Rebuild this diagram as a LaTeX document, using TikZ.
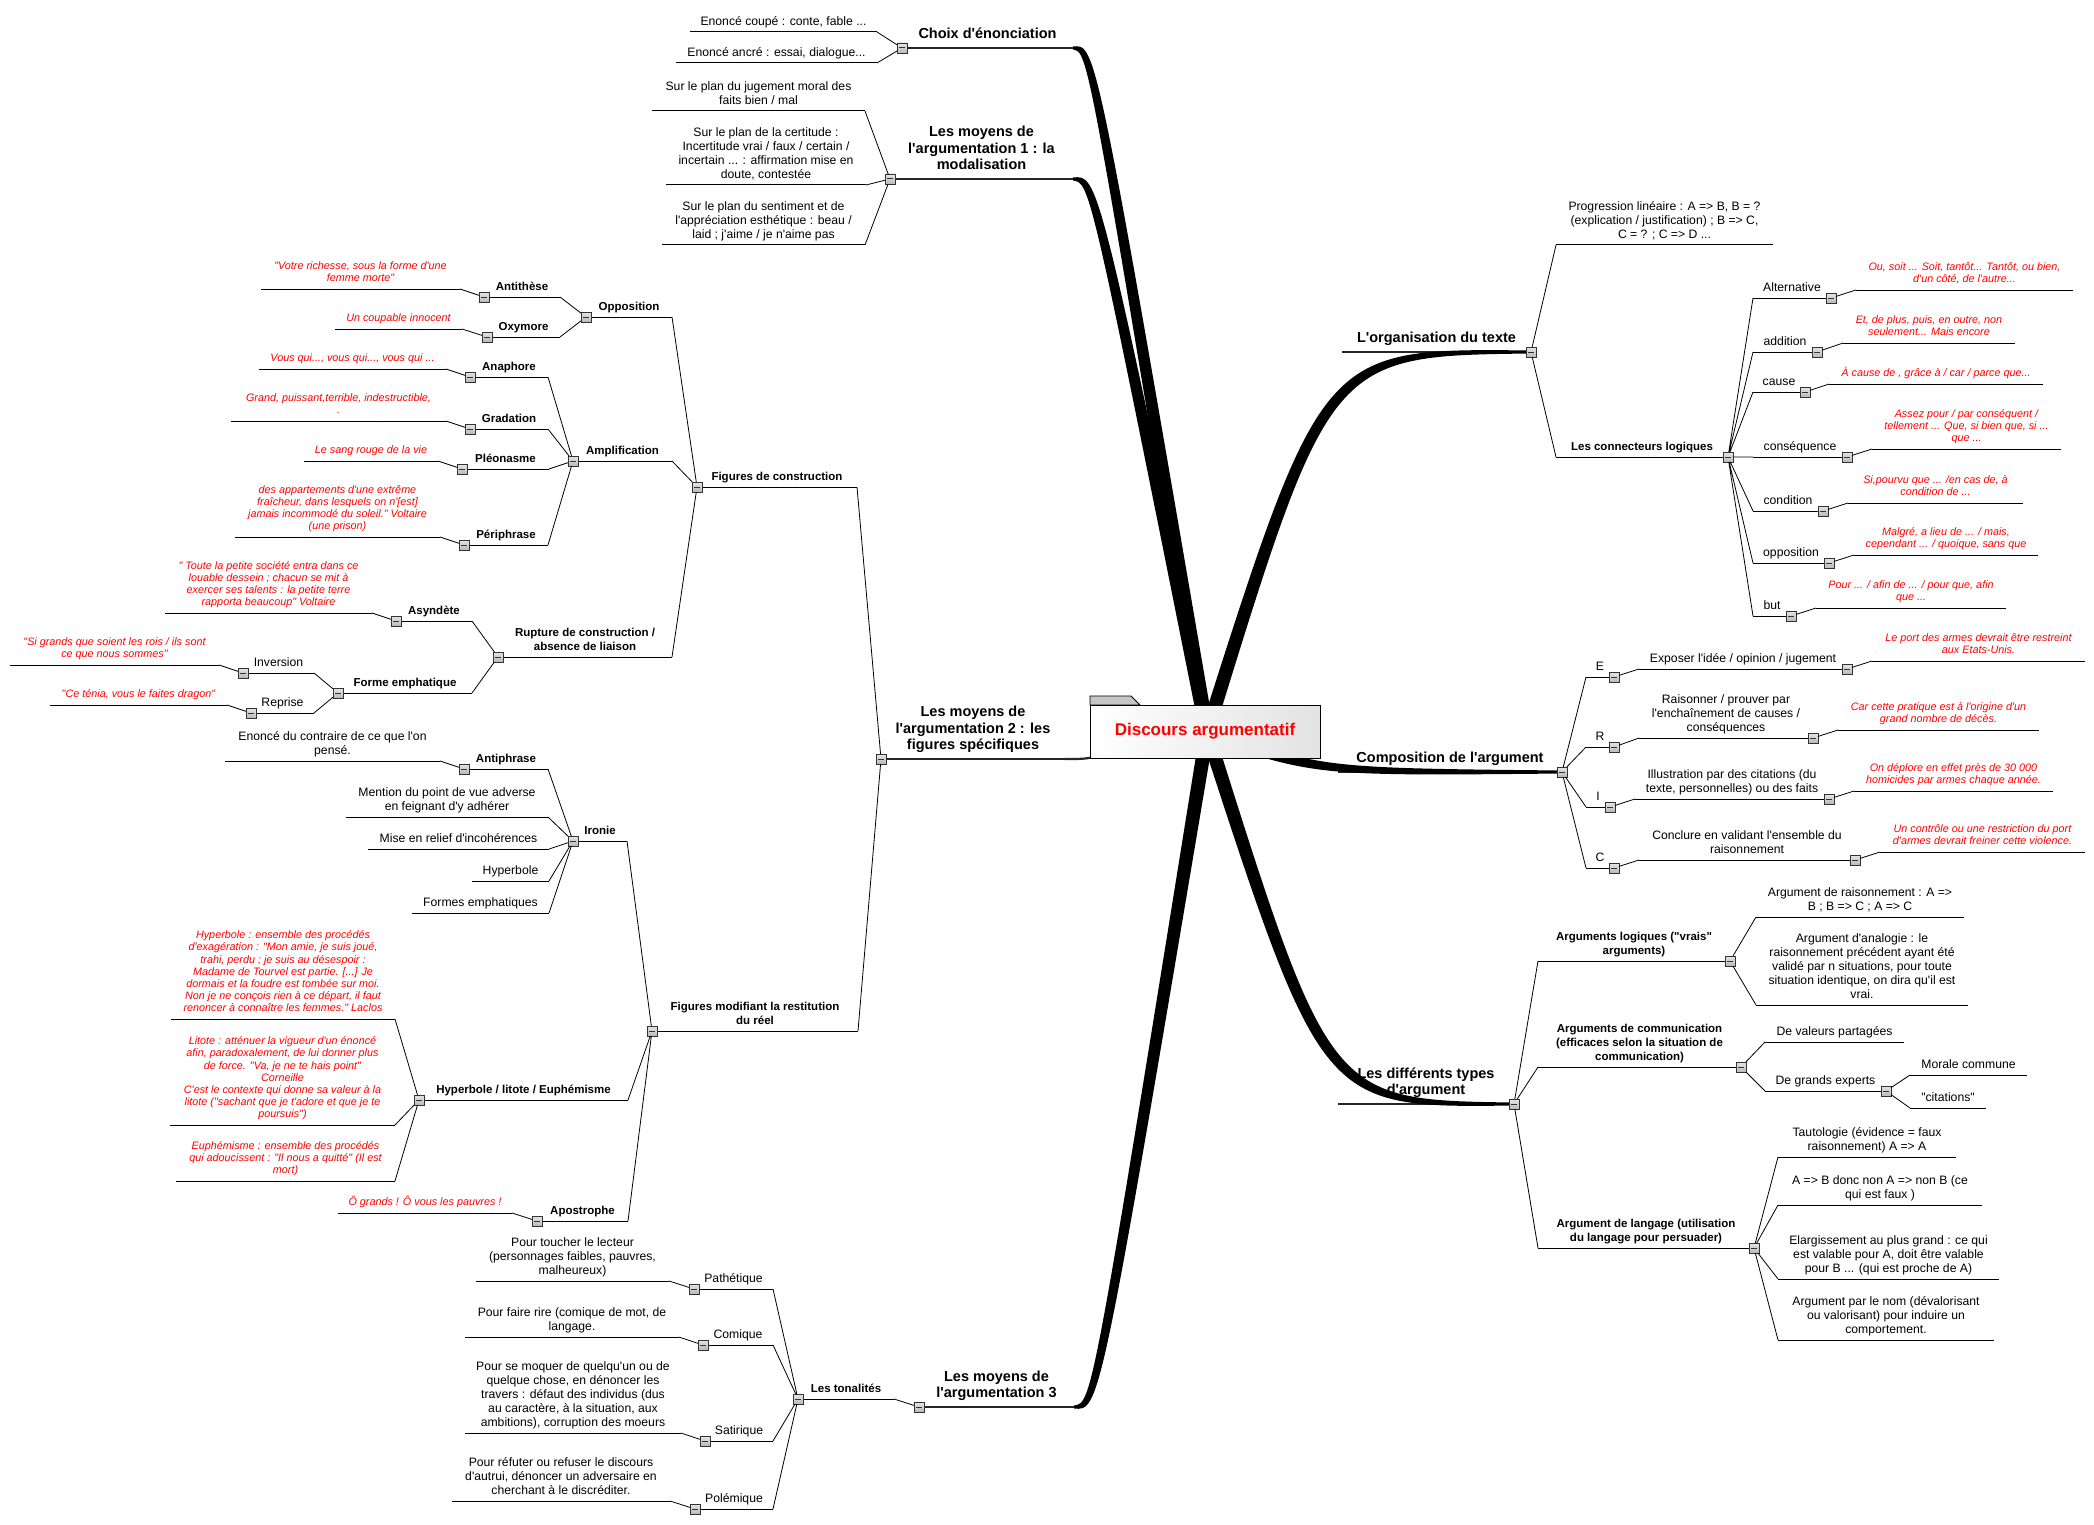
\documentclass[tikz,border=0pt]{standalone}
\usepackage{fontspec}
\setmainfont{Liberation Sans}[Ligatures=TeXOff]
\usetikzlibrary{calc}

\tikzset{
  txt/.style={font=\fontsize{12.2}{14}\selectfont, align=center, inner sep=0pt, text depth=0pt},
  sub/.style={txt, font=\bfseries\fontsize{11.5}{14}\selectfont},
  main/.style={txt, font=\bfseries\fontsize{14.5}{16.5}\selectfont, yshift=3pt},
  ex/.style={txt, font=\itshape\fontsize{10.8}{12.2}\selectfont, text=red, yshift=1pt},
  txt line/.style={line width=1pt},
  sub line/.style={line width=1pt},
  ex line/.style={line width=1pt},
  main line/.style={line width=2.2pt, black!85},
  link/.style={line width=.8pt},
  tog/.style={draw=gray!40!black, top color=gray!20, bottom color=gray!55, line width=.6pt,
    minimum size=10pt, inner sep=0pt, outer sep=0pt,
    path picture={\draw[line width=1pt, black!80]
      ([xshift=2.2pt]path picture bounding box.west) -- ([xshift=-2.2pt]path picture bounding box.east);}},
}

% a topic: text above its underline
\newcommand{\topic}[6]{%
  \coordinate (#1-l) at (#3,#5);
  \coordinate (#1-r) at (#4,#5);
  \draw[#2 line] (#1-l) -- (#1-r);
  \node[#2, anchor=south] (#1) at ($(#1-l)!.5!(#1-r)+(0,-6)$) {#6};
}
% the small collapse box
\newcommand{\tog}[2]{\node[tog] (#1-b) at (#2) {};}
% thick tapered branch from the centre
\newcommand{\branch}[4]{%
  \fill ($(ctr)+(#3)$) .. controls ($(#2)+(#4)$) .. ($(#1)+(0,-1.5)$)
    -- ($(#1)+(0,1.5)$) .. controls ($(#2)-(#4)$) .. ($(ctr)-(#3)$) -- cycle;
}

\begin{document}
\begin{tikzpicture}[x=1pt, y=-1pt]
\useasboundingbox (0,0) rectangle (2094,1525);
\coordinate (ctr) at (1207,732);

% Main topics on the left
\topic{choix}{main}{902}{1073}{48}{Choix d'énonciation}
\topic{modal}{main}{890}{1073}{179}{Les moyens de\\l'argumentation 1 : la\\modalisation}
\topic{moy2}{main}{881}{1065}{759}{Les moyens de\\l'argumentation 2 : les\\figures spécifiques}
\topic{moy3}{main}{919}{1074}{1407}{Les moyens de\\l'argumentation 3}

% Main topics on the right
\topic{org}{main}{1342}{1531}{352}{L'organisation du texte}
\topic{comp}{main}{1338}{1562}{772}{Composition de l'argument}
\topic{types}{main}{1338}{1514}{1104}{Les différents types\\d'argument}

% Draw the thick branches and the central topic
\branch{choix-r}{1092,48}{7,-1}{4,-4}
\branch{modal-r}{1094,179}{7,-1.4}{4,-4}
\coordinate (moy2-e) at (1100,756);
\draw[main line] (moy2-r) .. controls (1084,759) .. (moy2-e);
\branch{moy2-e}{1130,752}{-1.5,-6.8}{0,-4}
\branch{moy3-r}{1096,1407}{-7,-1}{-4,-4}
\branch{org-r}{1326,352}{-6.7,-2}{-4,-4}
\branch{comp-r}{1316,772}{2.5,-6.6}{0,-4}
\branch{types-r}{1326,1104}{6.7,-2}{4,-4}

\filldraw[fill=gray!45, draw=black, line width=.8pt] (1090,705) -- (1090,696) -- (1131,696) -- (1140,705) -- cycle;
\node[draw, line width=.8pt, left color=white, right color=gray!22, minimum width=230pt,
  minimum height=53pt, font=\bfseries\fontsize{17}{20}\selectfont, text=red] (root) at (1205,731.5) {Discours argumentatif};

% Choix d'enonciation
\topic{ec1}{txt}{690}{877}{32}{Enoncé coupé : conte, fable ...}
\topic{ec2}{txt}{676}{877}{63}{Enoncé ancré : essai, dialogue...}

% Modalisation
\topic{pl1}{txt}{652}{865}{111}{Sur le plan du jugement moral des\\faits bien / mal}
\topic{pl2}{txt}{666}{866}{185}{Sur le plan de la certitude :\\Incertitude vrai / faux / certain /\\incertain ... : affirmation mise en\\doute, contestée}
\topic{pl3}{txt}{662}{865}{245}{Sur le plan du sentiment et de\\l'appréciation esthétique : beau /\\laid ; j'aime / je n'aime pas}

% Figures de construction
\topic{figc}{sub}{697}{857}{487}{Figures de construction}
\topic{oppo}{sub}{586}{672}{317}{Opposition}
\topic{anti}{sub}{484}{560}{297}{Antithèse}
\topic{antiex}{ex}{261}{460}{289}{"Votre richesse, sous la forme d'une\\femme morte"}
\topic{oxy}{sub}{487}{560}{337}{Oxymore}
\topic{oxyex}{ex}{335}{462}{329}{Un coupable innocent}
\topic{ampl}{sub}{573}{672}{461}{Amplification}
\topic{anap}{sub}{470}{548}{377}{Anaphore}
\topic{anapex}{ex}{259}{446}{369}{Vous qui..., vous qui..., vous qui ...}
\topic{grad}{sub}{470}{548}{429}{Gradation}
\topic{gradex}{ex}{231}{446}{421}{Grand, puissant,terrible,  indestructible,\\.}
\topic{pleo}{sub}{462}{549}{469}{Pléonasme}
\topic{pleoex}{ex}{304}{438}{461}{Le sang rouge de la vie}
\topic{peri}{sub}{464}{548}{545}{Périphrase}
\topic{periex}{ex}{235}{440}{537}{des appartements d'une extrême\\fraîcheur, dans lesquels on n'[est]\\jamais incommodé du soleil." Voltaire\\(une prison)}
\topic{rupt}{sub}{498}{672}{657}{Rupture de construction /\\absence de liaison}
\topic{asyn}{sub}{396}{472}{621}{Asyndète}
\topic{asynex}{ex}{165}{372}{613}{" Toute la petite société entra dans ce\\louable dessein ; chacun se mit à\\exercer ses talents : la petite terre\\rapporta beaucoup" Voltaire}
\topic{femp}{sub}{338}{472}{693}{Forme emphatique}
\topic{inv}{txt}{243}{314}{673}{Inversion}
\topic{invex}{ex}{10}{219}{665}{"Si grands que soient les rois / ils sont\\ce que nous sommes"}
\topic{repr}{txt}{251}{314}{713}{Reprise}
\topic{reprex}{ex}{50}{227}{705}{"Ce ténia, vous le faites dragon"}

% Figures modifiant la restitution du reel
\topic{figm}{sub}{652}{858}{1031}{Figures modifiant la restitution\\du réel}
\topic{iron}{sub}{573}{627}{841}{Ironie}
\topic{antiph}{sub}{464}{548}{769}{Antiphrase}
\topic{antiphex}{txt}{225}{440}{761}{Enoncé du contraire de ce que l'on\\pensé.}
\topic{ment}{txt}{346}{548}{817}{Mention du point de vue adverse\\en feignant d'y adhérer}
\topic{mise}{txt}{368}{549}{849}{Mise en relief d'incohérences}
\topic{hyp}{txt}{472}{549}{881}{Hyperbole}
\topic{form}{txt}{412}{549}{913}{Formes emphatiques}
\topic{hle}{sub}{419}{628}{1100}{Hyperbole / litote / Euphémisme}
\topic{hle1}{ex}{171}{395}{1019}{Hyperbole : ensemble des procédés\\d'exagération :  "Mon amie, je suis joué,\\trahi, perdu ; je suis au désespoir :\\Madame de Tourvel est partie. [...] Je\\dormais et la foudre est tombée sur moi.\\Non je ne conçois rien à ce départ, il faut\\renoncer à connaître les femmes." Laclos}
\topic{hle2}{ex}{170}{395}{1125}{Litote : atténuer la vigueur d'un énoncé\\afin, paradoxalement, de lui donner plus\\de force.  "Va, je ne te hais point"\\Corneille\\C'est le contexte qui donne sa valeur à la\\litote ("sachant que je t'adore et que je te\\poursuis")}
\topic{hle3}{ex}{176}{395}{1181}{Euphémisme : ensemble des procédés\\qui adoucissent : "Il nous a quitté" (Il est\\mort)}
\topic{apos}{sub}{537}{628}{1221}{Apostrophe}
\topic{aposex}{ex}{338}{512}{1213}{Ô grands ! Ô vous les pauvres !}

% Les tonalites
\topic{tona}{sub}{798}{894}{1399}{Les tonalités}
\topic{path}{txt}{694}{773}{1289}{Pathétique}
\topic{pathex}{txt}{476}{669}{1281}{Pour toucher le lecteur\\(personnages faibles, pauvres,\\malheureux)}
\topic{comi}{txt}{703}{773}{1345}{Comique}
\topic{comiex}{txt}{465}{679}{1337}{Pour faire rire (comique de mot, de\\langage.}
\topic{sati}{txt}{705}{773}{1441}{Satirique}
\topic{satiex}{txt}{465}{681}{1433}{Pour se moquer de quelqu'un ou de\\quelque chose, en dénoncer les\\travers : défaut des individus (dus\\au caractère, à la situation, aux\\ambitions), corruption des moeurs}
\topic{pole}{txt}{695}{773}{1509}{Polémique}
\topic{poleex}{txt}{452}{670}{1501}{Pour réfuter ou refuser le discours\\d'autrui, dénoncer un adversaire en\\cherchant à le discréditer.}

% L'organisation du texte
\topic{prog}{txt}{1556}{1773}{245}{Progression linéaire : A => B, B = ?\\(explication / justification) ; B => C,\\C = ? ; C => D ...}
\topic{conn}{sub}{1556}{1728}{457}{Les connecteurs logiques}
\topic{alt}{txt}{1753}{1831}{298}{Alternative}
\topic{altex}{ex}{1856}{2073}{290}{Ou, soit ... Soit, tantôt... Tantôt, ou bien,\\d'un côté, de l'autre...}
\topic{add}{txt}{1753}{1817}{352}{addition}
\topic{addex}{ex}{1843}{2015}{343}{Et, de plus, puis, en outre, non\\seulement... Mais encore}
\topic{caus}{txt}{1753}{1805}{392}{cause}
\topic{causex}{ex}{1829}{2043}{384}{À cause de , grâce à / car / parce que...}
\topic{cons}{txt}{1753}{1847}{457}{conséquence}
\topic{consex}{ex}{1872}{2061}{449}{Assez pour / par conséquent /\\tellement ... Que, si bien que, si ...\\que ...}
\topic{cond}{txt}{1753}{1823}{511}{condition}
\topic{condex}{ex}{1848}{2023}{503}{Si,pourvu que  ...  /en cas de, à\\condition de ...}
\topic{oppr}{txt}{1753}{1829}{563}{opposition}
\topic{opprex}{ex}{1854}{2038}{555}{Malgré, a lieu de ... / mais,\\cependant ... / quoique, sans que}
\topic{but}{txt}{1753}{1791}{616}{but}
\topic{butex}{ex}{1816}{2006}{608}{Pour ... / afin de ... / pour que, afin\\que ...}

% Composition de l'argument
\topic{E}{txt}{1586}{1614}{677}{E}
\topic{Et}{txt}{1639}{1847}{669}{Exposer l'idée / opinion / jugement}
\topic{Eex}{ex}{1872}{2085}{661}{Le port des armes devrait être restreint\\aux Etats-Unis.}
\topic{R}{txt}{1586}{1614}{747}{R}
\topic{Rt}{txt}{1639}{1813}{738}{Raisonner / prouver par\\l'enchaînement de causes /\\conséquences}
\topic{Rex}{ex}{1838}{2039}{730}{Car cette pratique est à l'origine d'un\\grand nombre de décès.}
\topic{I}{txt}{1586}{1610}{807}{I}
\topic{It}{txt}{1635}{1829}{799}{Illustration par des citations (du\\texte, personnelles) ou des faits}
\topic{Iex}{ex}{1854}{2053}{791}{On déplore en effet près de 30 000\\homicides par armes chaque année.}
\topic{C}{txt}{1586}{1614}{868}{C}
\topic{Ct}{txt}{1639}{1855}{860}{Conclure en validant l'ensemble du\\raisonnement}
\topic{Cex}{ex}{1880}{2085}{852}{Un contrôle ou une restriction du port\\d'armes devrait freiner cette violence.}

% Les differents types d'argument
\topic{logi}{sub}{1538}{1730}{961}{Arguments logiques ("vrais"\\arguments)}
\topic{logi1}{txt}{1756}{1964}{917}{Argument de raisonnement : A =>\\B ; B => C ; A => C}
\topic{logi2}{txt}{1756}{1968}{1005}{Argument d'analogie : le\\raisonnement précédent ayant été\\validé par n situations, pour toute\\situation identique, on dira qu'il est\\vrai.}
\topic{comm}{sub}{1538}{1741}{1067}{Arguments de communication\\(efficaces selon la situation de\\communication)}
\topic{val}{txt}{1765}{1904}{1042}{De valeurs partagées}
\topic{exp}{txt}{1765}{1886}{1091}{De grands experts}
\topic{mor}{txt}{1910}{2027}{1075}{Morale commune}
\topic{cit}{txt}{1910}{1986}{1108}{"citations"}
\topic{lang}{sub}{1538}{1754}{1248}{Argument de langage (utilisation\\du langage pour persuader)}
\topic{lg1}{txt}{1778}{1956}{1157}{Tautologie (évidence = faux\\raisonnement) A => A}
\topic{lg2}{txt}{1778}{1982}{1205}{A => B donc non A => non B (ce\\qui est faux )}
\topic{lg3}{txt}{1778}{1999}{1279}{Elargissement au plus grand : ce qui\\est valable pour A, doit être valable\\pour B ... (qui est proche de A)}
\topic{lg4}{txt}{1778}{1994}{1340}{Argument par le nom (dévalorisant\\ou valorisant) pour induire un\\comportement.}

% Collapse boxes, left side
\tog{choix}{choix-l} \tog{modal}{modal-l} \tog{moy2}{moy2-l} \tog{moy3}{moy3-l}
\tog{figc}{figc-l} \tog{oppo}{oppo-l} \tog{anti}{anti-l} \tog{oxy}{oxy-l}
\tog{ampl}{ampl-l} \tog{anap}{anap-l} \tog{grad}{grad-l} \tog{pleo}{pleo-l} \tog{peri}{peri-l}
\tog{rupt}{rupt-l} \tog{asyn}{asyn-l} \tog{femp}{femp-l} \tog{inv}{inv-l} \tog{repr}{repr-l}
\tog{figm}{figm-l} \tog{iron}{iron-l} \tog{antiph}{antiph-l} \tog{hle}{hle-l} \tog{apos}{apos-l}
\tog{tona}{tona-l} \tog{path}{path-l} \tog{comi}{comi-l} \tog{sati}{sati-l} \tog{pole}{pole-l}

% Collapse boxes, right side
\tog{org}{org-r} \tog{conn}{conn-r} \tog{alt}{alt-r} \tog{add}{add-r} \tog{caus}{caus-r}
\tog{cons}{cons-r} \tog{cond}{cond-r} \tog{oppr}{oppr-r} \tog{but}{but-r}
\tog{comp}{comp-r} \tog{E}{E-r} \tog{Et}{Et-r} \tog{R}{R-r} \tog{Rt}{Rt-r}
\tog{I}{I-r} \tog{It}{It-r} \tog{C}{C-r} \tog{Ct}{Ct-r}
\tog{types}{types-r} \tog{logi}{logi-r} \tog{comm}{comm-r} \tog{exp}{exp-r} \tog{lang}{lang-r}

% Draw the connectors, left side
\draw[link] (choix-b) -- (ec1-r) (choix-b) -- (ec2-r);
\draw[link] (modal-b) -- (pl1-r) (modal-b) -- (pl2-r) (modal-b) -- (pl3-r);
\draw[link] (moy2-b) -- (figc-r) (moy2-b) -- (figm-r);
\draw[link] (figc-b) -- (oppo-r) (figc-b) -- (ampl-r) (figc-b) -- (rupt-r);
\draw[link] (oppo-b) -- (anti-r) (oppo-b) -- (oxy-r);
\draw[link] (anti-b) -- (antiex-r) (oxy-b) -- (oxyex-r);
\draw[link] (ampl-b) -- (anap-r) (ampl-b) -- (grad-r) (ampl-b) -- (pleo-r) (ampl-b) -- (peri-r);
\draw[link] (anap-b) -- (anapex-r) (grad-b) -- (gradex-r) (pleo-b) -- (pleoex-r) (peri-b) -- (periex-r);
\draw[link] (rupt-b) -- (asyn-r) (rupt-b) -- (femp-r) (asyn-b) -- (asynex-r);
\draw[link] (femp-b) -- (inv-r) (femp-b) -- (repr-r) (inv-b) -- (invex-r) (repr-b) -- (reprex-r);
\draw[link] (figm-b) -- (iron-r) (figm-b) -- (hle-r) (figm-b) -- (apos-r);
\draw[link] (iron-b) -- (antiph-r) (iron-b) -- (ment-r) (iron-b) -- (mise-r) (iron-b) -- (hyp-r) (iron-b) -- (form-r);
\draw[link] (antiph-b) -- (antiphex-r);
\draw[link] (hle-b) -- (hle1-r) (hle-b) -- (hle2-r) (hle-b) -- (hle3-r) (apos-b) -- (aposex-r);
\draw[link] (moy3-b) -- (tona-r);
\draw[link] (tona-b) -- (path-r) (tona-b) -- (comi-r) (tona-b) -- (sati-r) (tona-b) -- (pole-r);
\draw[link] (path-b) -- (pathex-r) (comi-b) -- (comiex-r) (sati-b) -- (satiex-r) (pole-b) -- (poleex-r);

% Draw the connectors, right side
\draw[link] (org-b) -- (prog-l) (org-b) -- (conn-l);
\draw[link] (conn-b) -- (alt-l) (conn-b) -- (add-l) (conn-b) -- (caus-l) (conn-b) -- (cons-l)
  (conn-b) -- (cond-l) (conn-b) -- (oppr-l) (conn-b) -- (but-l);
\draw[link] (alt-b) -- (altex-l) (add-b) -- (addex-l) (caus-b) -- (causex-l) (cons-b) -- (consex-l)
  (cond-b) -- (condex-l) (oppr-b) -- (opprex-l) (but-b) -- (butex-l);
\draw[link] (comp-b) -- (E-l) (comp-b) -- (R-l) (comp-b) -- (I-l) (comp-b) -- (C-l);
\draw[link] (E-b) -- (Et-l) (R-b) -- (Rt-l) (I-b) -- (It-l) (C-b) -- (Ct-l);
\draw[link] (Et-b) -- (Eex-l) (Rt-b) -- (Rex-l) (It-b) -- (Iex-l) (Ct-b) -- (Cex-l);
\draw[link] (types-b) -- (logi-l) (types-b) -- (comm-l) (types-b) -- (lang-l);
\draw[link] (logi-b) -- (logi1-l) (logi-b) -- (logi2-l);
\draw[link] (comm-b) -- (val-l) (comm-b) -- (exp-l) (exp-b) -- (mor-l) (exp-b) -- (cit-l);
\draw[link] (lang-b) -- (lg1-l) (lang-b) -- (lg2-l) (lang-b) -- (lg3-l) (lang-b) -- (lg4-l);

\end{tikzpicture}
\end{document}
